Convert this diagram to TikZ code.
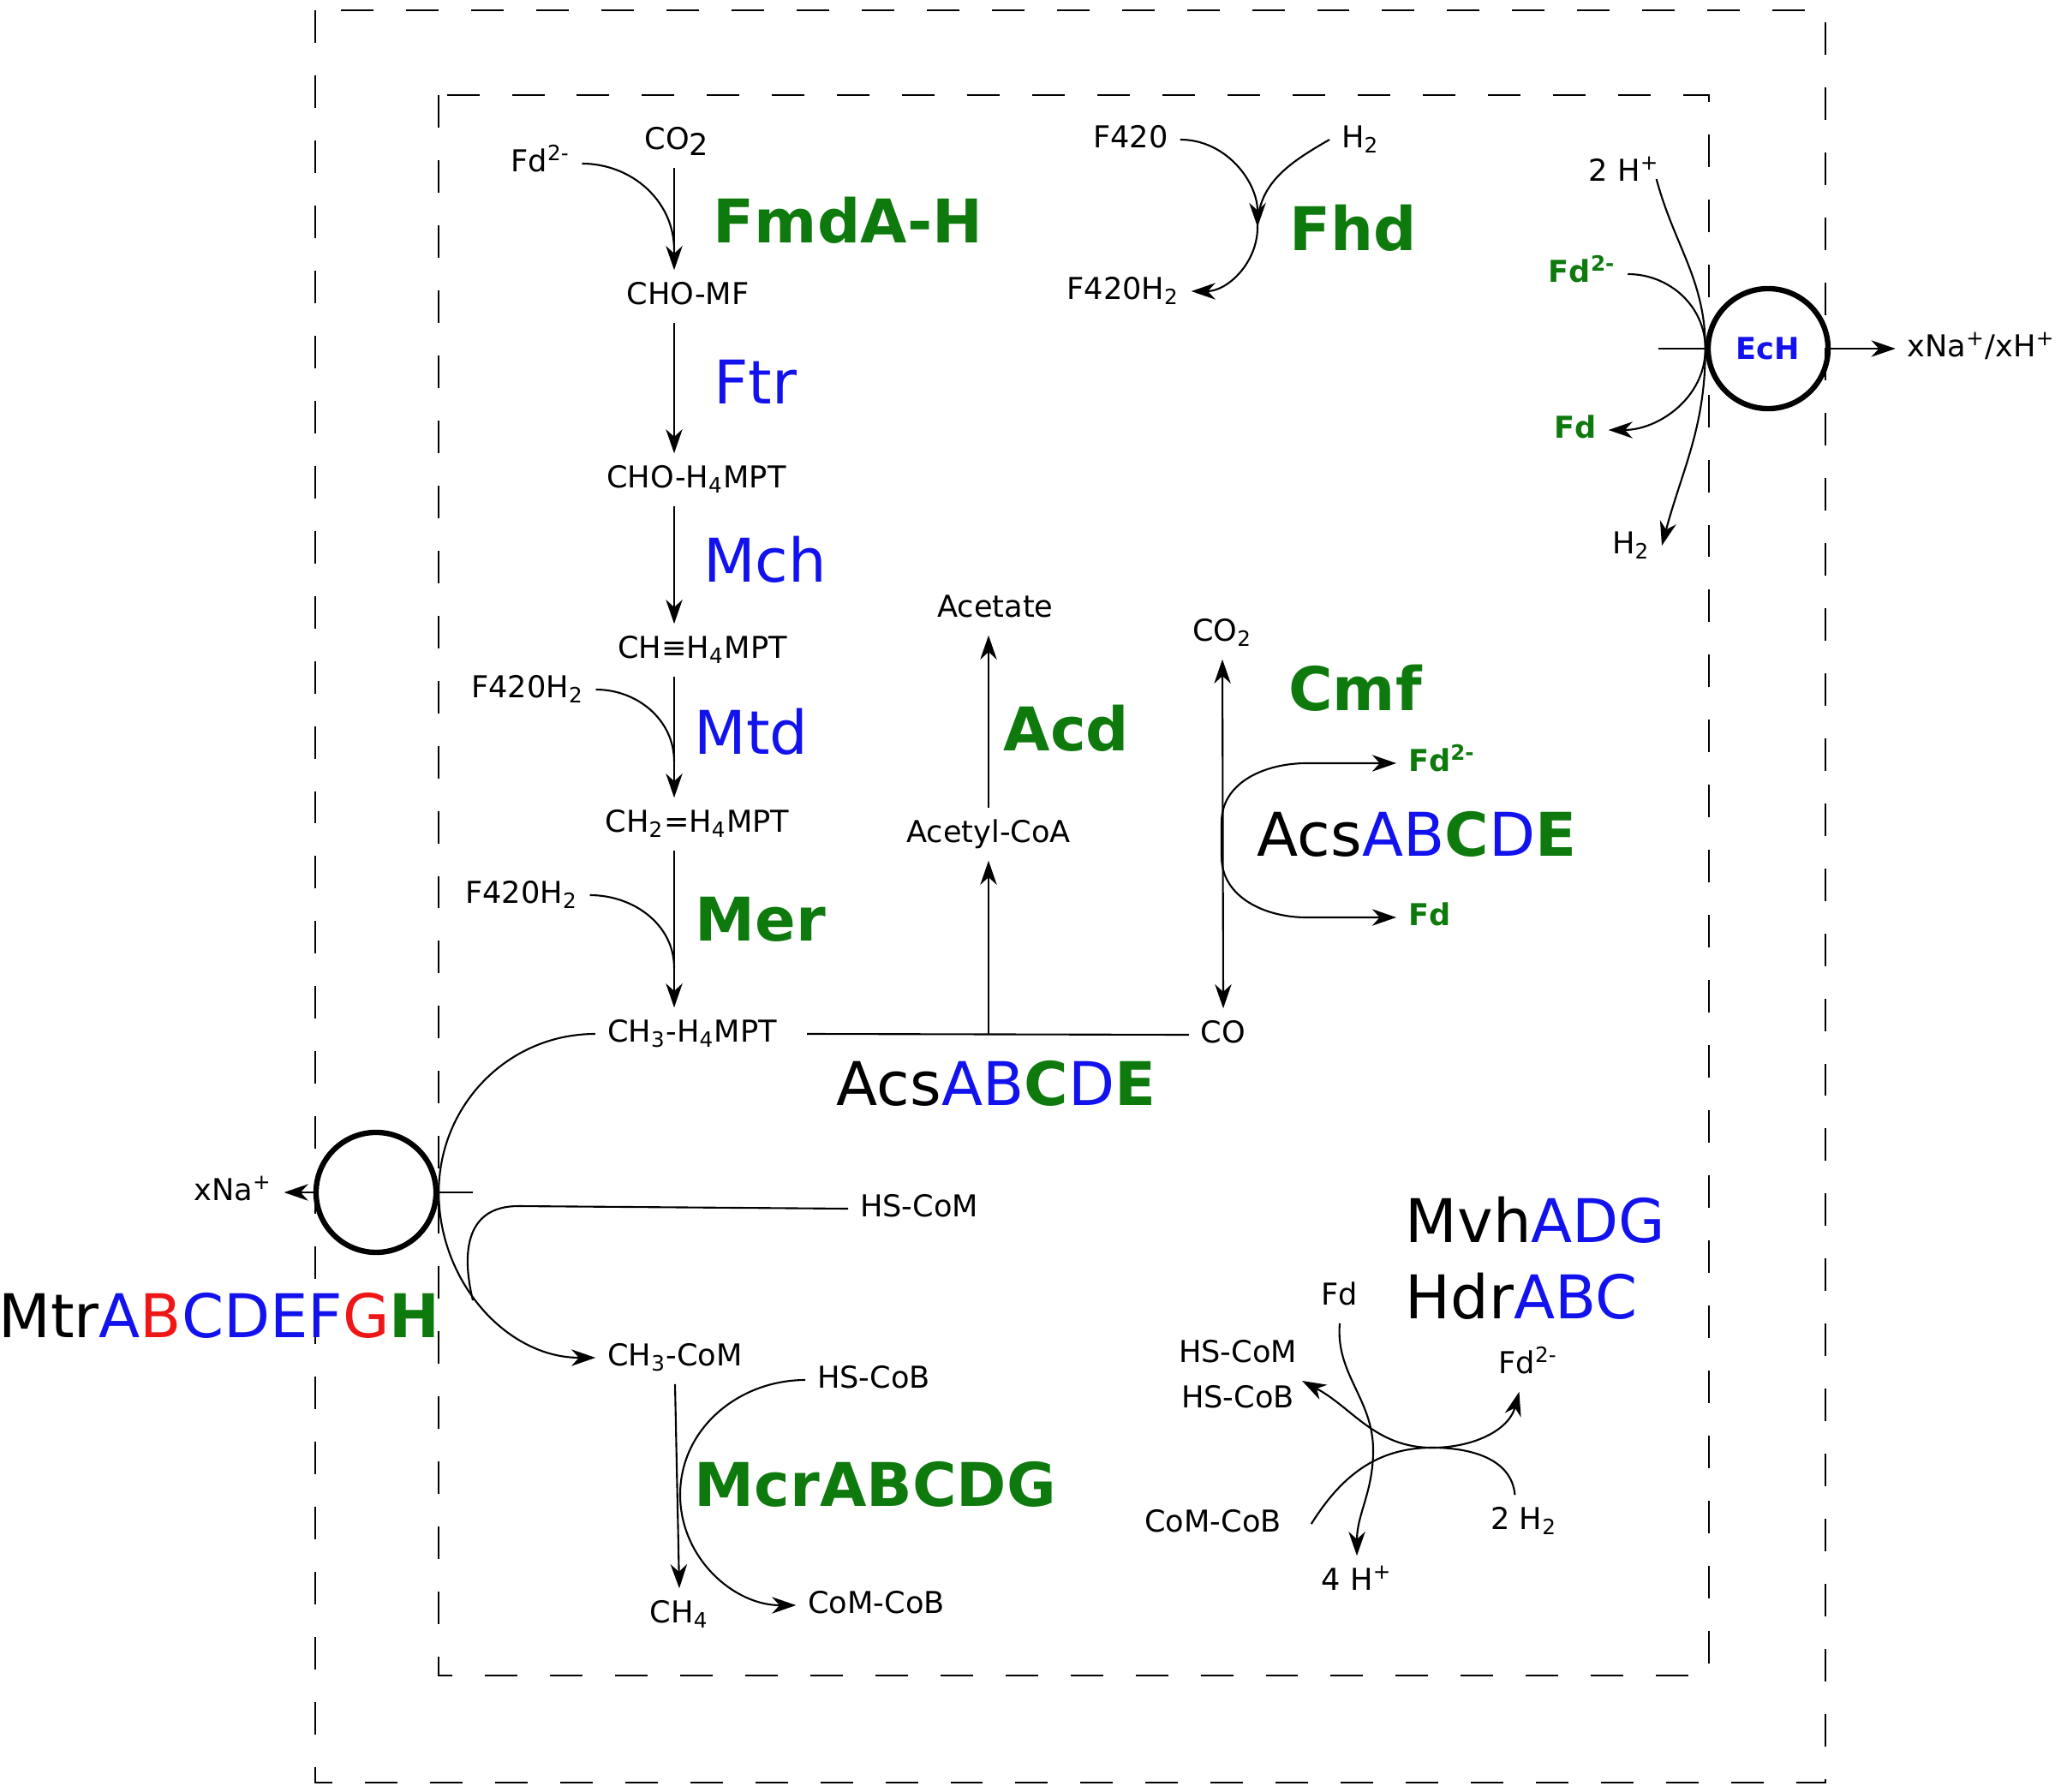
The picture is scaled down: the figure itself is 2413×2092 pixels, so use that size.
\documentclass[tikz,border=0pt]{standalone}
\usepackage{fontspec}
\setmainfont{DejaVu Sans}
\usetikzlibrary{arrows.meta}

\definecolor{enzgreen}{RGB}{14,122,14}
\definecolor{enzblue}{RGB}{18,18,238}
\definecolor{enzred}{RGB}{238,22,22}

\newcommand{\bigsz}{\fontsize{20}{24}\selectfont}
\newcommand{\grn}[1]{\textcolor{enzgreen}{\bfseries #1}}
\newcommand{\blu}[1]{\textcolor{enzblue}{#1}}
\newcommand{\rdd}[1]{\textcolor{enzred}{#1}}

\tikzset{
  mol/.style={font=\fontsize{10}{12}\selectfont, inner sep=1pt, outer sep=3pt, text height=7.5pt, text depth=2pt},
  gmol/.style={mol, font=\fontsize{10}{12}\selectfont\bfseries, text=enzgreen},
  enzg/.style={font=\bigsz\bfseries, text=enzgreen, inner sep=0pt},
  enzb/.style={font=\bigsz, text=enzblue, inner sep=0pt},
  enzk/.style={font=\bigsz, inner sep=0pt},
  lnk/.style={line width=0.6pt},
  rx/.style={lnk, -{Stealth[length=8pt, width=5.5pt, inset=2.5pt]}},
  rxx/.style={lnk, {Stealth[length=8pt, width=5.5pt, inset=2.5pt]}-{Stealth[length=8pt, width=5.5pt, inset=2.5pt]}},
  memb/.style={line width=0.8pt, dash pattern=on 10.8pt off 10.8pt},
  pump/.style={circle, draw, line width=1.8pt, minimum size=1.4cm, inner sep=0pt}
}

\begin{document}
\begin{tikzpicture}[x=0.01cm, y=-0.01cm]
\useasboundingbox (0,0) rectangle (2413,2092);

% membranes
\draw[memb] (368,12) rectangle (2131,2081);
\draw[memb] (512,111) rectangle (1995,1956);

% methyl branch
\coordinate (spine) at (787,0);
\node[mol] (co2a) at (790,165) {CO\raisebox{-0.35ex}{2}};
\node[mol] (fdA) at (631,191) {Fd\textsuperscript{2-}};
\node[mol] (chomf) at (803,346) {CHO-MF};
\node[mol] (chompt) at (813,560) {CHO-H\textsubscript{4}MPT};
\node[mol] (chmpt) at (820,759) {CH≡H\textsubscript{4}MPT};
\node[mol] (chtwo) at (814,962) {CH\textsubscript{2}=H\textsubscript{4}MPT};
\node[mol] (chthree) at (808,1207) {CH\textsubscript{3}-H\textsubscript{4}MPT};
\node[mol] (fhA) at (616,805) {F420H\textsubscript{2}};
\node[mol] (fhB) at (609,1045) {F420H\textsubscript{2}};

\node[enzg] (fmdlab) at (990,257) {FmdA-H};
\node[enzb] (ftrlab) at (882,446) {Ftr};
\node[enzb] (mchlab) at (893,653) {Mch};
\node[enzb] (mtdlab) at (877,854) {Mtd};
\node[enzg] (merlab) at (888,1073) {Mer};

\draw[rx] (co2a.south -| spine) -- (chomf.north -| spine);
\draw[rx] (chomf.south -| spine) -- (chompt.north -| spine);
\draw[rx] (chompt.south -| spine) -- (chmpt.north -| spine);
\draw[rx] (chmpt.south -| spine) -- (chtwo.north -| spine);
\draw[rx] (chtwo.south -| spine) -- (chthree.north -| spine);

\coordinate (fmdjoin) at (787,292);
\coordinate (mtdjoin) at (787,889);
\coordinate (merjoin) at (787,1130);
\draw[lnk] (fdA.east) to[out=0,in=90] (fmdjoin);
\draw[lnk] (fhA.east) to[out=0,in=90] (mtdjoin);
\draw[lnk] (fhB.east) to[out=0,in=90] (merjoin);

% Fhd
\node[mol] (f420) at (1320,163) {F420};
\node[mol] (h2a) at (1588,163) {H\textsubscript{2}};
\node[mol] (f420h2) at (1311,340) {F420H\textsubscript{2}};
\node[enzg] (fhdlab) at (1580,266) {Fhd};
\coordinate (fhdjoin) at (1468,265);
\draw[rx] (f420.east) to[out=0,in=90] (fhdjoin);
\draw[rx] (h2a.west) to[out=210,in=90] (fhdjoin) to[out=-90,in=0] (f420h2.east);

% acetyl-CoA / CO
\node[mol] (acoa) at (1154,974) {Acetyl-CoA};
\node[mol] (acet) at (1162,711) {Acetate};
\node[mol] (coB) at (1428,1208) {CO};
\node[mol] (co2b) at (1427,739) {CO\textsubscript{2}};
\node[enzg] (acdlab) at (1245,850) {Acd};
\node[enzg] (cmflab) at (1582,803) {Cmf};
\node[enzk] (acslabA) at (1163,1265) {Acs\blu{AB}\grn{C}\blu{D}\grn{E}};
\node[enzk] (acslabB) at (1654,974) {Acs\blu{AB}\grn{C}\blu{D}\grn{E}};
\draw[lnk] ([xshift=6pt]chthree.east) -- (coB.west);
\draw[rx] (acoa.south |- chthree.east) -- (acoa.south);
\draw[rx] (acoa.north) -- (acoa.north |- acet.south);
\draw[rxx] (coB.north) -- (co2b.south);

\node[gmol, anchor=west] (fdC) at (1630,891) {Fd\textsuperscript{2-}};
\node[gmol, anchor=west] (fdD) at (1630,1071) {Fd};
\coordinate (cmftop) at (1426,960);
\coordinate (cmfbot) at (1426,1000);
\draw[rxx] (fdC.west) -- (1525,891) to[out=180,in=90] (cmftop) -- (cmfbot) to[out=-90,in=180] (1525,1071) -- (fdD.west);

% EcH
\node[pump, font=\fontsize{10}{12}\selectfont\bfseries, text=enzblue] (ech) at (2064,407) {EcH};
\node[mol] (xnah) at (2313,407) {xNa\textsuperscript{+}/xH\textsuperscript{+}};
\node[mol] (twoh) at (1896,202) {2 H\textsuperscript{+}};
\node[gmol] (fdE) at (1847,320) {Fd\textsuperscript{2-}};
\node[gmol] (fdF) at (1839,502) {Fd};
\node[mol] (h2e) at (1904,637) {H\textsubscript{2}};
\draw[rx] (ech.east) -- (xnah.west);
\draw[lnk] (ech.west) -- ++(-55,0);
\draw[rx] ([xshift=-5pt,yshift=-2pt]twoh.east) to[out=-75,in=90] (ech.west) to[out=-90,in=75] (h2e.east);
\draw[rx] (fdE.east) to[out=0,in=90] (ech.west) to[out=-90,in=0] (fdF.east);

% Mtr
\node[pump] (mtr) at (439,1392) {};
\node[mol] (xnam) at (272,1392) {xNa\textsuperscript{+}};
\node[enzk] (mtrlab) at (256,1536) {Mtr\blu{A}\rdd{B}\blu{CDEF}\rdd{G}\grn{H}};
\node[mol] (hscomA) at (1073,1411) {HS-CoM};
\node[mol] (chcom) at (788,1585) {CH\textsubscript{3}-CoM};
\draw[rx] (mtr.west) -- (xnam.east);
\draw[lnk] (mtr.east) -- ++(40,0);
\coordinate (mtrjoin) at (552,1518);
\draw[rx] (chthree.west) to[out=180,in=90] (mtr.east) to[out=-90,in=180] (chcom.west);
\draw[lnk] (hscomA.west) -- (605,1408) .. controls (545,1408) and (538,1460) .. (mtrjoin);

% Mcr
\node[mol] (hscob) at (1020,1611) {HS-CoB};
\node[mol] (ch4) at (793,1885) {CH\textsubscript{4}};
\node[mol] (cocob) at (1023,1874) {CoM-CoB};
\node[enzg] (mcrlab) at (1022,1733) {McrABCDG};
\coordinate (mcrmid) at (794,1745);
\draw[rx] (chcom.south) -- (ch4.north);
\draw[rx] (hscob.west) to[out=180,in=90] (mcrmid) to[out=-90,in=180] (cocob.west);

% Mvh / Hdr
\node[enzk, anchor=west] (mvhlab) at (1640,1424) {Mvh\blu{ADG}};
\node[enzk, anchor=west] (hdrlab) at (1640,1513) {Hdr\blu{ABC}};
\node[mol] (fdM) at (1564,1514) {Fd};
\node[mol] (hscomB) at (1445,1581) {HS-CoM};
\node[mol] (hscobB) at (1445,1634) {HS-CoB};
\node[mol] (fdN) at (1784,1594) {Fd\textsuperscript{2-}};
\node[mol] (cocobB) at (1416,1779) {CoM-CoB};
\node[mol] (twoh2) at (1779,1776) {2 H\textsubscript{2}};
\node[mol] (fourh) at (1584,1847) {4 H\textsuperscript{+}};
\coordinate (hdrmid) at (1672,1690);
\coordinate (hdrout) at (1520,1612);
\coordinate (hdrside) at (1603,1693);
\draw[rxx] (hdrout) to[out=-28,in=180] (hdrmid) to[out=0,in=-105] ([xshift=-3pt]fdN.south);
\draw[lnk] ([xshift=6pt]cocobB.east) to[out=58,in=180] (hdrmid) to[out=0,in=95] ([xshift=-3pt]twoh2.north);
\draw[rx] (fdM.south) to[out=-95,in=90] (hdrside) to[out=-90,in=90] (fourh.north);
\end{tikzpicture}
\end{document}
